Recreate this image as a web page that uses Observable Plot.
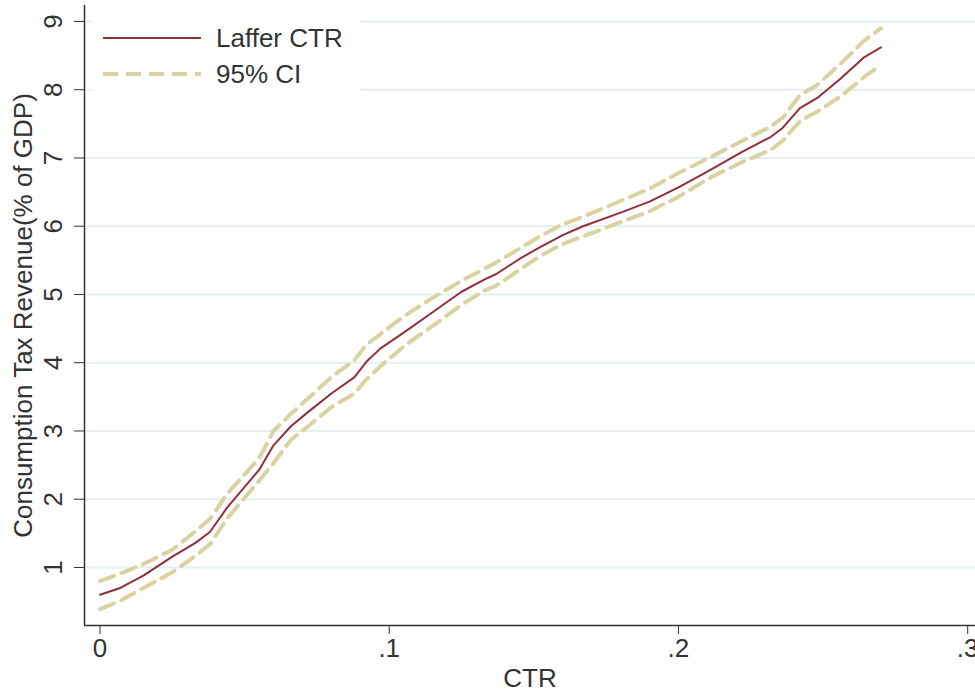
<!DOCTYPE html>
<html>
<head>
<meta charset="utf-8">
<script src="https://cdn.jsdelivr.net/npm/d3@7"></script>
<script src="https://cdn.jsdelivr.net/npm/@observablehq/plot@0.6"></script>
<style>
  html, body { margin: 0; padding: 0; background: #fff; overflow: hidden; }
  #chart { width: 975px; height: 692px; }
</style>
</head>
<body>
<div id="chart"></div>
<script>
// ---- data ----
const ctr = [0, 0.007, 0.015, 0.025, 0.033, 0.038, 0.044, 0.055, 0.060, 0.066, 0.072, 0.080,
  0.088, 0.092, 0.097, 0.105, 0.115, 0.125, 0.133, 0.137, 0.145, 0.152, 0.160, 0.167,
  0.180, 0.190, 0.200, 0.210, 0.222, 0.232, 0.236, 0.242, 0.248, 0.256, 0.264, 0.270];
const laffer = [0.60, 0.70, 0.88, 1.16, 1.36, 1.52, 1.88, 2.43, 2.79, 3.07, 3.28, 3.55,
  3.79, 4.01, 4.21, 4.44, 4.74, 5.04, 5.22, 5.30, 5.52, 5.69, 5.87, 6.00,
  6.20, 6.36, 6.57, 6.80, 7.09, 7.31, 7.44, 7.73, 7.88, 8.16, 8.47, 8.62];
const ciUpper = [0.80, 0.91, 1.05, 1.26, 1.53, 1.71, 2.08, 2.60, 3.00, 3.25, 3.48, 3.79,
  4.04, 4.26, 4.42, 4.68, 4.95, 5.20, 5.38, 5.47, 5.67, 5.85, 6.03, 6.14,
  6.37, 6.55, 6.78, 6.99, 7.25, 7.46, 7.59, 7.92, 8.07, 8.38, 8.71, 8.90];
const ciLower = [0.39, 0.51, 0.70, 0.93, 1.17, 1.34, 1.72, 2.27, 2.53, 2.87, 3.07, 3.35,
  3.55, 3.75, 3.95, 4.24, 4.54, 4.85, 5.06, 5.13, 5.36, 5.56, 5.74, 5.85,
  6.06, 6.22, 6.43, 6.69, 6.94, 7.12, 7.25, 7.54, 7.68, 7.90, 8.18, 8.36];
const xTicks = [0, 0.1, 0.2, 0.3];
const xTickLabels = ["0", ".1", ".2", ".3"];
const yTicks = [1, 2, 3, 4, 5, 6, 7, 8, 9];
const yTickLabels = ["1", "2", "3", "4", "5", "6", "7", "8", "9"];
const xTitle = "CTR";
const yTitle = "Consumption Tax Revenue(% of GDP)";
const legendLabels = ["Laffer CTR", "95% CI"];

// ---- styles ----
const FONT = "'Liberation Sans', Arial, Helvetica, sans-serif";
const FS = 26;
const C_MAIN = "#8f2f3a";
const C_CI = "#d9d3a2";
const C_GRID = "#e5eff1";
const C_AXIS = "#333333";
const xDomain = [-0.00536, 0.30270];
const yDomain = [0.150, 9.234];

const rows = ctr.map((x, i) => ({x, y: laffer[i], hi: ciUpper[i], lo: ciLower[i]}));

const plot = Plot.plot({
  width: 975,
  height: 692,
  marginLeft: 84,
  marginRight: 0,
  marginTop: 5,
  marginBottom: 67,
  style: {fontFamily: FONT, fontSize: FS + "px", color: C_AXIS, background: "#fff", overflow: "visible"},
  x: {domain: xDomain, label: null},
  y: {domain: yDomain, label: null},
  marks: [
    Plot.gridY(yTicks, {stroke: C_GRID, strokeOpacity: 1, strokeWidth: 2}),
    Plot.line(rows, {x: "x", y: "hi", stroke: C_CI, strokeWidth: 4, strokeDasharray: "15,8"}),
    Plot.line(rows, {x: "x", y: "lo", stroke: C_CI, strokeWidth: 4, strokeDasharray: "15,8"}),
    Plot.line(rows, {x: "x", y: "y", stroke: C_MAIN, strokeWidth: 2}),
    Plot.ruleX([xDomain[0]], {stroke: C_AXIS, strokeWidth: 1.5}),
    Plot.ruleY([yDomain[0]], {stroke: C_AXIS, strokeWidth: 1.5}),
    Plot.axisX(xTicks, {tickSize: 9, tickPadding: 4, tickFormat: (d, i) => xTickLabels[i], label: null, fontSize: FS, stroke: C_AXIS}),
    Plot.axisY(yTicks, {tickSize: 10, tickPadding: 13, tickRotate: -90, tickFormat: (d, i) => yTickLabels[i], label: null, fontSize: FS, stroke: C_AXIS}),
    Plot.text([xTitle], {frameAnchor: "bottom", dy: 61, lineAnchor: "bottom", textAnchor: "middle", fontSize: FS, fill: C_AXIS}),
    Plot.text([yTitle], {frameAnchor: "left", dx: -71, rotate: -90, lineAnchor: "top", textAnchor: "middle", fontSize: FS, fill: C_AXIS})
  ]
});

// legend box inside the plot area (top-left), drawn over the grid
const svg = d3.select(plot);
const lg = svg.append("g").attr("font-family", FONT).attr("font-size", FS).attr("text-anchor", "start");
lg.append("rect").attr("x", 92).attr("y", 6).attr("width", 268).attr("height", 100).attr("fill", "#fff");
const items = [
  {label: legendLabels[0], stroke: C_MAIN, width: 2, dash: null, y: 38},
  {label: legendLabels[1], stroke: C_CI, width: 4, dash: "15,8", y: 74}
];
items.forEach(it => {
  lg.append("line").attr("x1", 103).attr("x2", 201).attr("y1", it.y).attr("y2", it.y)
    .attr("stroke", it.stroke).attr("stroke-width", it.width).attr("stroke-dasharray", it.dash);
  lg.append("text").attr("x", 216).attr("y", it.y + 9).attr("fill", C_AXIS)
    .attr("text-anchor", "start").text(it.label);
});

document.getElementById("chart").appendChild(plot);
</script>
</body>
</html>
